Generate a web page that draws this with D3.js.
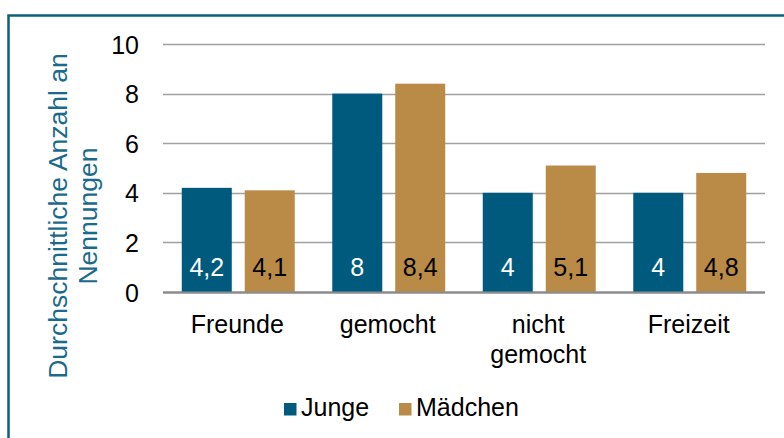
<!DOCTYPE html>
<html>
<head>
<meta charset="utf-8">
<script src="https://cdn.jsdelivr.net/npm/d3@7/dist/d3.min.js"></script>
<style>
  body { margin: 0; background: #fff; }
  text { font-family: "Liberation Sans", Arial, sans-serif; }
</style>
</head>
<body>
<svg id="chart" width="784" height="438"></svg>
<script>
// data
const categories = [["Freunde"], ["gemocht"], ["nicht", "gemocht"], ["Freizeit"]];
const seriesNames = ["Junge", "Mädchen"];
const junge = [4.2, 8, 4, 4];
const maedchen = [4.1, 8.4, 5.1, 4.8];
const yTicks = [0, 2, 4, 6, 8, 10];

const colors = ["#005a7e", "#b98b47"];
const labelColors = ["#ffffff", "#000000"];

const svg = d3.select("#chart");

// outer frame
svg.append("rect")
   .attr("x", 8.5).attr("y", 15.5)
   .attr("width", 800).attr("height", 500)
   .style("fill", "none")
   .style("stroke", "#0d5f80")
   .style("stroke-width", 2.5);

const plotLeft = 163, plotRight = 765, plotTop = 44, plotBottom = 292;

const x = d3.scaleBand()
    .domain(d3.range(categories.length))
    .range([plotLeft, plotRight])
    .paddingInner(0)
    .paddingOuter(0);

const xs = d3.scaleBand()
    .domain(seriesNames)
    .range([0, x.bandwidth()])
    .paddingInner(0.206)
    .paddingOuter(0.298);

const y = d3.scaleLinear().domain([0, 10]).range([plotBottom, plotTop]);

// gridlines
svg.append("g")
   .selectAll("line")
   .data(yTicks)
   .enter()
   .append("line")
   .attr("x1", plotLeft).attr("x2", plotRight)
   .attr("y1", d => Math.round(y(d)) + 0.5)
   .attr("y2", d => Math.round(y(d)) + 0.5)
   .style("stroke", d => d === 0 ? "#8c8c8c" : "#a0a0a0")
   .style("stroke-width", d => d === 0 ? 2 : 1.5);

// y tick labels
const yAxis = d3.axisLeft(y).tickValues(yTicks).tickSize(0).tickPadding(0);
const gy = svg.append("g").attr("transform", `translate(${plotLeft - 24},0)`).call(yAxis);
gy.select(".domain").remove();
gy.selectAll("text")
  .style("font-size", "25px")
  .style("font-family", "'Liberation Sans', Arial, sans-serif")
  .style("fill", "#000")
  .attr("dy", "0.36em");

// bars
const data = categories.map((c, i) => ({ i: i, values: [junge[i], maedchen[i]] }));

const groups = svg.append("g")
   .selectAll("g")
   .data(data)
   .enter()
   .append("g")
   .attr("transform", d => `translate(${x(d.i)},0)`);

groups.selectAll("rect")
   .data(d => d.values.map((v, s) => ({ s: s, v: v })))
   .enter()
   .append("rect")
   .attr("x", d => xs(seriesNames[d.s]))
   .attr("width", xs.bandwidth())
   .attr("y", d => y(d.v))
   .attr("height", d => y(0) - y(d.v))
   .style("fill", d => colors[d.s]);

groups.selectAll("text.val")
   .data(d => d.values.map((v, s) => ({ s: s, v: v })))
   .enter()
   .append("text")
   .attr("class", "val")
   .attr("x", d => xs(seriesNames[d.s]) + xs.bandwidth() / 2)
   .attr("y", y(0) - 16)
   .attr("text-anchor", "middle")
   .style("font-size", "25px")
   .style("fill", d => labelColors[d.s])
   .text(d => String(d.v).replace(".", ","));

// baseline redrawn over bars
svg.append("line")
   .attr("x1", plotLeft).attr("x2", plotRight)
   .attr("y1", y(0) + 0.5).attr("y2", y(0) + 0.5)
   .style("stroke", "#8c8c8c")
   .style("stroke-width", 2);

// category labels
const cat = svg.append("g")
   .selectAll("text")
   .data(categories)
   .enter()
   .append("text")
   .attr("x", (d, i) => x(i) + x.bandwidth() / 2 - 1)
   .attr("y", 333)
   .attr("text-anchor", "middle")
   .style("font-size", "25px")
   .style("fill", "#000");
cat.selectAll("tspan")
   .data(d => d)
   .enter()
   .append("tspan")
   .attr("x", function() { return d3.select(this.parentNode).attr("x"); })
   .attr("dy", (d, j) => j === 0 ? 0 : 30)
   .text(d => d);

// y axis title
const title = svg.append("text")
   .attr("transform", "translate(67,216) rotate(-90)")
   .attr("text-anchor", "middle")
   .style("font-size", "26.5px")
   .style("fill", "#1a6a8c");
title.append("tspan").attr("x", 0).attr("dy", 0).text("Durchschnittliche Anzahl an");
title.append("tspan").attr("x", 0).attr("dy", 30).text("Nennungen");

// legend
const legendX = [284, 399];
const leg = svg.append("g")
   .selectAll("g")
   .data(seriesNames)
   .enter()
   .append("g")
   .attr("transform", (d, i) => `translate(${legendX[i]},403)`);
leg.append("rect")
   .attr("width", 12.5).attr("height", 12.5)
   .style("fill", (d, i) => colors[i]);
leg.append("text")
   .attr("x", 17).attr("y", 13)
   .style("font-size", "25px")
   .style("fill", "#000")
   .text(d => d);
</script>
</body>
</html>
